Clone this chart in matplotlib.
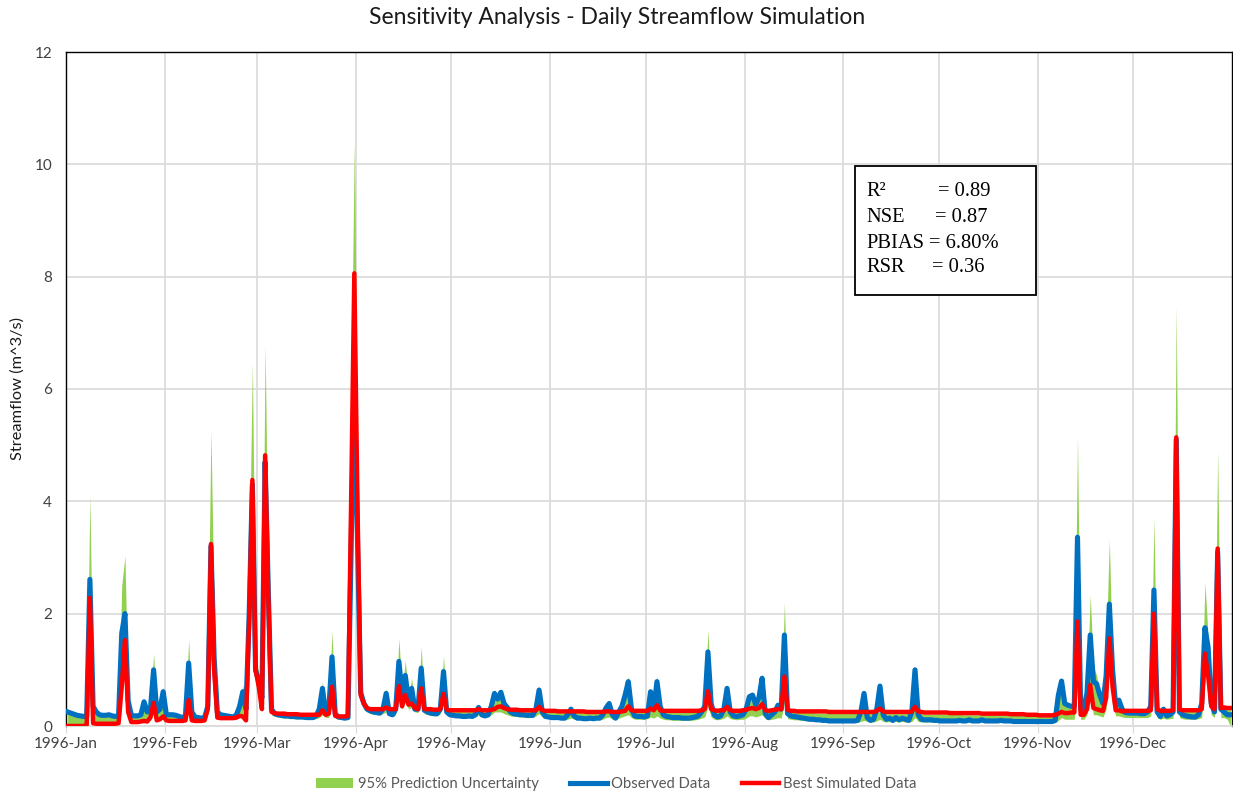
import numpy as np
import pandas as pd
import matplotlib
matplotlib.use("Agg")
import matplotlib.pyplot as plt
import matplotlib.dates as mdates
from matplotlib.patches import Rectangle

# daily values for 1996 (one row per month)
obs = [
    .25,.23,.21,.19,.18,.17,.17,2.61,.35,.25,.20,.19,.19,.20,.18,.17,.18,1.65,2.00,.45,.19,.18,.18,.20,.43,.25,.30,1.00,.25,.30,.61,
    .20,.20,.20,.19,.17,.15,.18,1.12,.25,.16,.15,.14,.15,.35,3.20,1.20,.25,.20,.19,.18,.17,.16,.20,.35,.61,.30,2.00,4.30,1.00,
    .80,.50,4.70,2.40,.30,.22,.20,.19,.18,.18,.17,.17,.16,.16,.16,.15,.15,.15,.18,.30,.67,.22,.30,1.23,.22,.16,.15,.14,.15,3.20,6.16,
    3.30,.60,.40,.30,.27,.25,.24,.23,.30,.58,.22,.20,.30,1.15,.55,.90,.45,.67,.30,.30,1.03,.28,.25,.23,.22,.22,.30,.97,.25,.20,
    .19,.18,.18,.17,.17,.18,.17,.20,.33,.20,.18,.20,.35,.58,.48,.60,.40,.33,.25,.22,.21,.20,.20,.19,.19,.19,.30,.64,.25,.17,.16,
    .15,.15,.15,.14,.14,.20,.30,.18,.14,.14,.13,.13,.14,.13,.14,.14,.20,.32,.40,.20,.14,.25,.35,.55,.79,.30,.18,.17,.17,.16,
    .18,.61,.30,.79,.35,.20,.17,.16,.15,.15,.15,.14,.14,.14,.15,.16,.18,.25,.35,1.32,.40,.20,.16,.18,.30,.67,.25,.18,.17,.18,.20,
    .30,.52,.55,.38,.50,.85,.22,.15,.20,.25,.37,.30,1.62,.22,.18,.17,.16,.15,.14,.13,.12,.12,.11,.11,.10,.10,.09,.09,.09,.09,.09,
    .09,.09,.09,.09,.10,.25,.58,.15,.10,.12,.30,.71,.20,.12,.14,.10,.15,.11,.14,.12,.10,.25,1.00,.20,.12,.11,.11,.11,.10,.10,
    .09,.09,.09,.09,.09,.09,.10,.09,.09,.11,.09,.09,.09,.11,.09,.09,.09,.09,.09,.10,.09,.09,.09,.08,.08,.08,.08,.08,.08,.08,.08,
    .08,.08,.08,.08,.08,.10,.55,.80,.40,.37,.35,.35,3.36,.30,.30,.60,1.62,.79,.75,.55,.40,.90,2.17,1.00,.35,.46,.30,.24,.23,.23,
    .23,.23,.22,.22,.25,.35,2.42,.25,.17,.30,.18,.20,.25,5.10,.25,.20,.18,.17,.16,.16,.20,.40,1.75,1.40,.40,.25,3.10,.30,.25,.20,.20,
]
sim = [
    .00,.00,.00,.00,.00,.00,.02,2.28,.05,.04,.04,.04,.04,.04,.04,.04,.05,.70,1.53,.25,.07,.07,.07,.08,.09,.08,.15,.41,.10,.12,.17,
    .10,.09,.09,.09,.09,.09,.10,.46,.10,.09,.09,.09,.10,.30,3.24,1.00,.15,.14,.14,.14,.14,.14,.15,.18,.17,.10,1.90,4.38,1.00,
    .70,.30,4.82,2.30,.25,.23,.22,.22,.22,.21,.21,.21,.21,.20,.20,.20,.20,.20,.20,.20,.28,.20,.22,.70,.18,.17,.17,.17,.18,4.00,8.06,
    3.90,.55,.40,.32,.30,.30,.30,.30,.30,.33,.30,.30,.30,.71,.35,.55,.38,.40,.32,.30,.67,.30,.30,.30,.29,.29,.30,.57,.29,.28,
    .28,.28,.28,.28,.28,.28,.28,.28,.30,.28,.28,.28,.29,.30,.34,.35,.32,.30,.29,.29,.29,.28,.28,.28,.28,.28,.28,.34,.28,.27,.27,
    .27,.27,.26,.26,.26,.26,.26,.26,.26,.26,.26,.25,.25,.25,.25,.25,.25,.26,.26,.25,.25,.25,.26,.27,.35,.28,.27,.27,.27,.27,
    .27,.31,.28,.37,.28,.27,.27,.27,.27,.27,.27,.27,.27,.27,.27,.27,.27,.28,.30,.62,.30,.28,.27,.28,.28,.34,.28,.27,.27,.27,.28,
    .29,.31,.32,.30,.32,.39,.28,.27,.28,.29,.30,.30,.88,.29,.27,.27,.26,.26,.26,.26,.26,.26,.26,.26,.26,.26,.25,.25,.25,.25,.25,
    .25,.25,.25,.25,.25,.25,.25,.25,.25,.25,.27,.31,.26,.25,.25,.25,.25,.25,.25,.25,.25,.26,.34,.26,.25,.24,.24,.24,.24,.24,
    .24,.24,.24,.23,.23,.23,.23,.23,.23,.23,.23,.23,.23,.22,.22,.22,.22,.22,.22,.22,.22,.22,.21,.21,.21,.21,.21,.20,.20,.20,.20,
    .19,.19,.19,.19,.19,.20,.22,.25,.23,.23,.24,.24,1.86,.20,.20,.30,.73,.32,.30,.28,.27,.50,1.56,.70,.28,.28,.26,.27,.27,.27,
    .27,.27,.27,.27,.27,.28,2.00,.30,.27,.27,.27,.27,.28,5.14,.30,.28,.28,.28,.28,.28,.28,.30,1.29,.90,.35,.30,3.16,.32,.33,.32,.32,
]
ppu_upper = [
    .22,.20,.18,.17,.16,.15,.18,4.11,.40,.22,.18,.17,.17,.18,.16,.15,.17,2.50,3.03,.55,.18,.16,.16,.18,.38,.22,.40,1.29,.22,.30,.70,
    .20,.19,.19,.18,.16,.14,.20,1.54,.22,.14,.14,.13,.14,1.20,5.25,2.00,.24,.19,.18,.17,.16,.16,.19,.40,.73,.28,2.80,6.46,1.40,
    .90,.55,6.78,2.60,.28,.23,.22,.21,.21,.20,.20,.20,.20,.20,.19,.19,.19,.19,.19,.32,.79,.22,.35,1.69,.22,.17,.16,.16,.17,6.00,10.38,
    5.00,.70,.42,.32,.30,.30,.30,.30,.32,.67,.30,.30,.35,1.56,.60,1.17,.50,.85,.35,.35,1.41,.32,.30,.30,.29,.29,.35,1.25,.30,.29,
    .28,.28,.28,.28,.27,.27,.27,.28,.33,.28,.27,.28,.38,.65,.52,.65,.42,.35,.30,.29,.28,.28,.28,.27,.27,.27,.33,.71,.28,.26,.26,
    .26,.26,.25,.25,.25,.25,.30,.25,.25,.25,.25,.24,.24,.24,.24,.24,.24,.34,.42,.24,.24,.28,.38,.60,.88,.32,.26,.26,.26,.26,
    .26,.64,.32,.89,.38,.26,.26,.26,.26,.26,.25,.25,.25,.25,.25,.25,.25,.28,.38,1.71,.42,.26,.25,.26,.33,.73,.27,.25,.25,.26,.26,
    .32,.57,.60,.40,.55,.93,.27,.25,.26,.28,.40,.32,2.19,.27,.25,.25,.25,.24,.24,.24,.24,.24,.23,.23,.23,.23,.23,.23,.23,.23,.23,
    .23,.23,.23,.23,.23,.28,.60,.23,.22,.22,.33,.74,.23,.22,.22,.22,.22,.22,.22,.22,.22,.28,1.04,.23,.22,.21,.21,.21,.21,.21,
    .21,.21,.21,.21,.21,.21,.21,.20,.20,.20,.20,.20,.20,.20,.20,.20,.20,.20,.20,.20,.20,.19,.19,.19,.19,.19,.19,.18,.18,.18,.18,
    .17,.17,.17,.17,.17,.18,.60,.85,.45,.40,.38,.40,5.15,.33,.33,.70,2.33,1.06,.90,.60,.42,1.40,3.32,1.10,.38,.50,.32,.28,.28,.28,
    .28,.28,.27,.27,.28,.40,3.71,.32,.27,.32,.27,.27,.30,7.48,.32,.28,.27,.27,.27,.27,.28,.45,2.55,1.60,.45,.30,4.90,.35,.34,.33,.32,
]
ppu_lower = [
    .00,.00,.00,.00,.00,.00,.00,1.80,.03,.03,.03,.03,.03,.03,.03,.03,.04,.60,1.30,.20,.06,.06,.06,.07,.08,.07,.12,.35,.08,.10,.14,
    .08,.08,.08,.08,.08,.08,.08,.40,.08,.08,.08,.08,.09,.25,2.80,.90,.13,.12,.12,.12,.12,.12,.13,.15,.15,.08,1.70,3.90,.90,
    .60,.28,4.30,2.10,.20,.17,.16,.15,.14,.14,.13,.13,.13,.13,.12,.12,.12,.12,.13,.15,.20,.15,.15,.55,.14,.12,.12,.11,.12,2.80,5.50,
    3.00,.45,.30,.25,.22,.21,.20,.20,.22,.25,.18,.17,.20,.55,.30,.45,.30,.33,.25,.24,.55,.22,.20,.19,.18,.18,.22,.45,.20,.17,
    .16,.15,.15,.15,.14,.15,.14,.16,.20,.16,.15,.16,.20,.25,.25,.25,.22,.20,.18,.17,.17,.16,.16,.15,.15,.15,.18,.22,.16,.14,.13,
    .12,.12,.12,.12,.11,.12,.14,.12,.11,.11,.11,.10,.11,.10,.11,.11,.12,.15,.16,.12,.11,.14,.16,.18,.20,.15,.12,.12,.12,.12,
    .13,.16,.14,.18,.14,.12,.11,.11,.10,.10,.10,.10,.10,.10,.10,.11,.12,.14,.16,.35,.16,.12,.11,.12,.14,.18,.13,.12,.11,.12,.12,
    .14,.18,.18,.16,.18,.20,.13,.11,.12,.13,.15,.14,.40,.13,.12,.11,.11,.10,.10,.09,.09,.08,.08,.08,.07,.07,.07,.07,.07,.07,.07,
    .07,.07,.07,.07,.07,.08,.10,.08,.07,.07,.09,.12,.08,.07,.08,.07,.08,.07,.08,.07,.07,.08,.15,.08,.07,.07,.07,.07,.07,.07,
    .07,.07,.07,.07,.07,.07,.07,.07,.07,.07,.07,.07,.07,.07,.07,.07,.07,.07,.07,.07,.07,.07,.06,.06,.06,.06,.06,.06,.06,.06,.06,
    .05,.05,.05,.05,.05,.06,.10,.15,.12,.12,.12,.12,1.50,.12,.12,.20,.55,.20,.20,.18,.16,.30,1.20,.40,.18,.18,.16,.15,.15,.15,
    .15,.15,.15,.15,.15,.18,1.60,.15,.12,.14,.12,.13,.14,4.50,.15,.13,.12,.12,.12,.12,.13,.15,1.00,.70,.20,.15,2.70,.15,.15,.12,.00,
]

stat_names = ["R²", "NSE", "PBIAS", "RSR"]
stat_values = ["= 0.89", "= 0.87", "= 6.80%", "= 0.36"]

# points sit in the middle of each day
dates = pd.date_range("1996-01-01", "1996-12-31", freq="D") + pd.Timedelta(hours=12)

plt.rcParams["font.family"] = ["Lato", "DejaVu Sans"]

fig = plt.figure(figsize=(12.33, 7.96), dpi=100)
ax = fig.add_axes([66/1233, 1 - 726/796, 1166/1233, 674/796])

ax.fill_between(dates, ppu_lower, ppu_upper, color="#92d050", lw=0,
                label="95% Prediction Uncertainty", zorder=2)
ax.plot(dates, obs, color="#0070c0", lw=3.7, label="Observed Data", zorder=3)
ax.plot(dates, sim, color="#ff0000", lw=3.2, label="Best Simulated Data", zorder=4)

ax.set_xlim(pd.Timestamp("1996-01-01"), pd.Timestamp("1997-01-01"))
ax.set_ylim(0, 12)
ax.set_yticks(np.arange(0, 13, 2))
ax.set_xticks(pd.date_range("1996-01-01", periods=12, freq="MS"))
ax.xaxis.set_major_formatter(mdates.DateFormatter("%Y-%b"))

ax.grid(True, color="#d9d9d9", lw=1.2, zorder=0)
ax.set_axisbelow(True)
ax.tick_params(axis="y", length=0, pad=10, labelsize=11, labelcolor="#404040")
ax.tick_params(axis="x", length=5, color="#d9d9d9", pad=3, labelsize=11, labelcolor="#404040")
for side in ["left", "top", "right"]:
    ax.spines[side].set_color("black")
    ax.spines[side].set_linewidth(1.0)
ax.spines["bottom"].set_color("#d9d9d9")
ax.spines["bottom"].set_linewidth(1.2)

ax.set_ylabel("Streamflow (m^3/s)", fontsize=11.8, color="#1a1a1a", labelpad=7)
fig.text(617/1233, 1 - 17/796, "Sensitivity Analysis - Daily Streamflow Simulation",
         ha="center", va="center", fontsize=16.5, color="#1a1a1a")

# statistics box
fig.patches.append(Rectangle((855/1233, 1 - 295/796), 181/1233, 129/796,
                             transform=fig.transFigure, facecolor="white",
                             edgecolor="black", lw=1.3, zorder=5))
row_y = [191, 218, 244, 268]
eq_x = [938, 935, 929, 932]
for name, val, y, ex in zip(stat_names, stat_values, row_y, eq_x):
    fig.text(866/1233, 1 - y/796, name, ha="left", va="center", fontsize=14.8,
             family="Liberation Serif", zorder=6)
    fig.text(ex/1233, 1 - y/796, val, ha="left", va="center", fontsize=14.8,
             family="Liberation Serif", zorder=6)

leg = fig.legend(loc="center", bbox_to_anchor=(0.5, 1 - 784/796), ncol=3, frameon=False,
                 fontsize=10.7, handlelength=2.5, handletextpad=0.3, columnspacing=2.1)
for t in leg.get_texts():
    t.set_color("#595959")

fig.savefig("out.png", dpi=100)
